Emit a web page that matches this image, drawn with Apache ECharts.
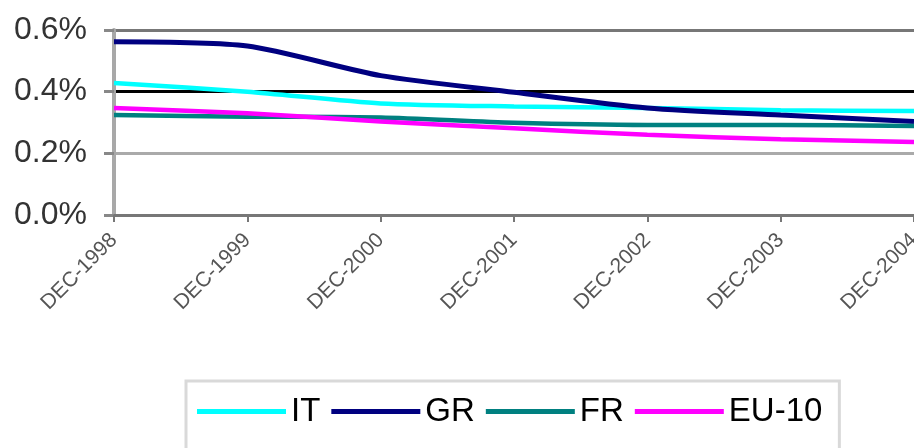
<!DOCTYPE html>
<html>
<head>
<meta charset="utf-8">
<script src="https://cdn.jsdelivr.net/npm/echarts@6/dist/echarts.min.js"></script>
<style>
  html, body { margin: 0; padding: 0; background: #fff; overflow: hidden; }
  #chart { width: 914px; height: 448px; }
</style>
</head>
<body>
<div id="chart"></div>
<script>
// Year-end ratios, in percent
const categories = ['DEC-1998', 'DEC-1999', 'DEC-2000', 'DEC-2001', 'DEC-2002', 'DEC-2003', 'DEC-2004'];
const seriesNames = ['IT', 'GR', 'FR', 'EU-10'];
const itValues = [0.428, 0.400, 0.362, 0.352, 0.347, 0.340, 0.337];
const grValues = [0.562, 0.548, 0.452, 0.398, 0.347, 0.324, 0.303];
const frValues = [0.324, 0.319, 0.316, 0.299, 0.292, 0.292, 0.289];
const euValues = [0.347, 0.330, 0.303, 0.281, 0.260, 0.246, 0.237];
const yTicks = [0, 0.2, 0.4, 0.6];

const colors = ['#00ffff', '#000080', '#008080', '#ff00ff'];
const valueSets = [itValues, grValues, frValues, euValues];

const chart = echarts.init(document.getElementById('chart'), null, { renderer: 'canvas', width: 914, height: 448 });

chart.setOption({
  animation: false,
  color: colors,
  grid: { left: 114, right: 0, top: 30, bottom: 233, containLabel: false, outerBoundsMode: 'none' },
  xAxis: {
    type: 'category',
    data: categories,
    boundaryGap: false,
    axisLine: { lineStyle: { color: '#777777', width: 3 } },
    axisTick: { show: true, alignWithLabel: true, length: 7, lineStyle: { color: '#777777', width: 2 } },
    axisLabel: {
      rotate: 45,
      margin: 22,
      fontFamily: 'Liberation Sans, Arial, sans-serif',
      fontSize: 21,
      color: '#555555'
    },
    splitLine: { show: false }
  },
  yAxis: {
    type: 'value',
    min: yTicks[0],
    max: yTicks[yTicks.length - 1],
    interval: 0.2,
    axisLine: { show: true, lineStyle: { color: '#a8a8a8', width: 4 } },
    axisTick: { show: true, length: 10, lineStyle: { color: '#888888', width: 3 } },
    axisLabel: {
      margin: 27,
      fontFamily: 'Liberation Sans, Arial, sans-serif',
      fontSize: 32,
      color: '#333333',
      formatter: v => v.toFixed(1) + '%'
    },
    splitLine: {
      show: true,
      lineStyle: { color: ['#aaaaaa', '#aaaaaa', '#000000', '#777777'], width: 3 }
    }
  },
  legend: {
    data: seriesNames,
    left: 186,
    top: 381,
    orient: 'horizontal',
    icon: 'rect',
    itemWidth: 89,
    itemHeight: 5,
    itemGap: 11,
    padding: [14, 17, 40, 11],
    borderColor: '#d9d9d9',
    borderWidth: 3,
    textStyle: {
      fontFamily: 'Liberation Sans, Arial, sans-serif',
      fontSize: 33,
      color: '#000000'
    }
  },
  series: seriesNames.map((name, i) => ({
    name: name,
    type: 'line',
    data: valueSets[i],
    smooth: 0.25,
    symbol: 'none',
    lineStyle: { width: name === 'GR' ? 5 : 4.5, color: colors[i] },
    itemStyle: { color: colors[i] }
  }))
});
</script>
</body>
</html>
